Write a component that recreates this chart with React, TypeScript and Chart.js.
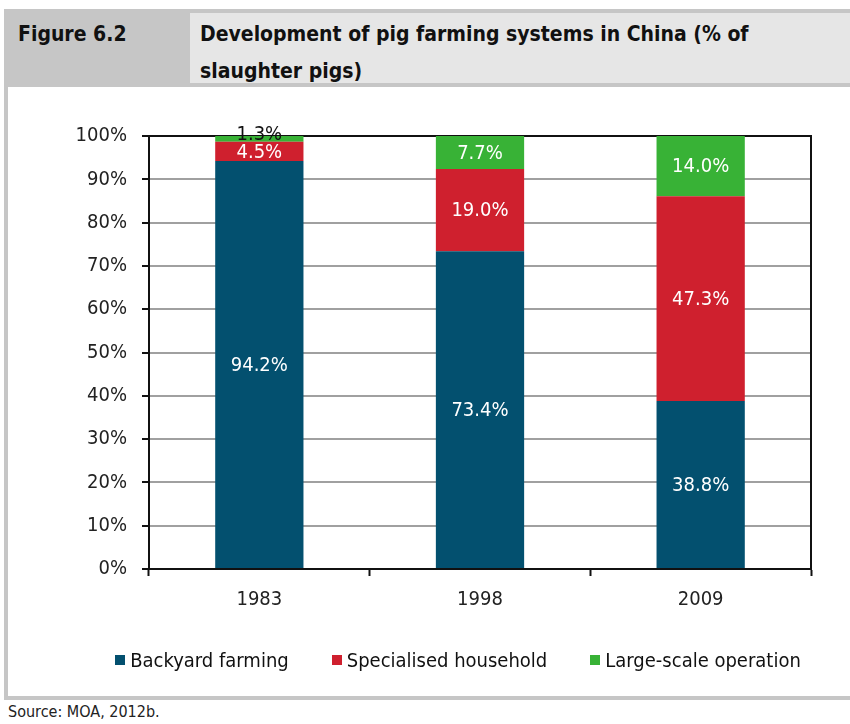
import React, { useEffect, useRef } from "react";
import { Chart, registerables } from "chart.js";

Chart.register(...registerables);

const categories = ["1983", "1998", "2009"];
const seriesNames = ["Backyard farming", "Specialised household", "Large-scale operation"];
const backyard = [94.2, 73.4, 38.8];
const specialised = [4.5, 19.0, 47.3];
const largeScale = [1.3, 7.7, 14.0];
const seriesColors = ["#03506f", "#cf202e", "#38b236"];
const yTicks = [0, 10, 20, 30, 40, 50, 60, 70, 80, 90, 100];

const FONT = '"DejaVu Sans Condensed", "Liberation Sans", sans-serif';
const FS = 20;

const labelPlugin = {
  id: "segLabels",
  afterDatasetsDraw(chart: any) {
    const ctx = chart.ctx;
    ctx.save();
    ctx.font = `normal ${FS}px ${FONT}`;
    ctx.textAlign = "center";
    ctx.textBaseline = "middle";
    chart.data.datasets.forEach((ds: any, di: number) => {
      const meta = chart.getDatasetMeta(di);
      meta.data.forEach((el: any, i: number) => {
        const v = ds.data[i];
        const top = Math.max(el.y, chart.chartArea.top);
        const h = Math.abs(el.base - top);
        let y = (top + el.base) / 2;
        if (h < 14) {
          ctx.fillStyle = "#111";
          y -= 5;
        } else {
          ctx.fillStyle = "#ffffff";
        }
        ctx.fillText(v.toFixed(1) + "%", el.x, y + 1);
      });
    });
    ctx.restore();
  },
};

const boxPlugin = {
  id: "plotBox",
  beforeDatasetsDraw(chart: any) {
    const { ctx, chartArea } = chart;
    ctx.save();
    ctx.strokeStyle = "#111";
    ctx.lineWidth = 2;
    ctx.beginPath();
    ctx.moveTo(chartArea.left, chartArea.top);
    ctx.lineTo(chartArea.right, chartArea.top);
    ctx.lineTo(chartArea.right, chartArea.bottom);
    ctx.stroke();
    ctx.restore();
  },
};

function ChartCanvas() {
  const ref = useRef<HTMLCanvasElement | null>(null);
  useEffect(() => {
    if (!ref.current) return;
    const values = [backyard, specialised, largeScale];
    const chart = new Chart(ref.current, {
      type: "bar",
      data: {
        labels: categories,
        datasets: seriesNames.map((name, i) => ({
          label: name,
          data: values[i],
          backgroundColor: seriesColors[i],
          borderWidth: 0,
          barPercentage: 0.4,
          categoryPercentage: 1,
        })),
      },
      options: {
        animation: false,
        responsive: false,
        devicePixelRatio: 1,
        layout: { padding: { top: 49, right: 39, bottom: 81, left: 0 } },
        plugins: {
          legend: { display: false },
          tooltip: { enabled: false },
        },
        scales: {
          x: {
            stacked: true,
            grid: {
              offset: true,
              drawOnChartArea: false,
              tickLength: 7,
              tickColor: "#111",
              tickWidth: 2,
            },
            border: { display: true, color: "#111", width: 2 },
            ticks: { font: { family: FONT, size: FS }, color: "#222", padding: 12 },
            afterFit(scale: any) {
              scale.height = 46;
            },
          },
          y: {
            stacked: true,
            min: 0,
            max: 100,
            afterBuildTicks(scale: any) {
              scale.ticks = yTicks.map((v) => ({ value: v }));
            },
            grid: {
              color: "#a0a0a0",
              lineWidth: 2,
              tickLength: 7,
              tickColor: "#111",
              tickWidth: 2,
            },
            border: { display: true, color: "#111", width: 2 },
            ticks: {
              font: { family: FONT, size: FS },
              color: "#222",
              padding: 15,
              callback: (v: any) => v + "%",
            },
            afterFit(scale: any) {
              scale.width = 141;
            },
          },
        },
      },
      plugins: [boxPlugin, labelPlugin],
    });
    return () => chart.destroy();
  }, []);
  return <canvas ref={ref} width={842} height={609} style={{ display: "block" }} />;
}

export default function App() {
  const text: React.CSSProperties = { fontFamily: FONT, color: "#111" };
  return (
    <div style={{ position: "absolute", left: 0, top: 0, width: 850, height: 724, background: "#fff", overflow: "hidden" }}>
      <div style={{ position: "absolute", left: 4, top: 9, width: 846, height: 691, background: "#c6c6c6" }} />
      <div style={{ ...text, position: "absolute", left: 18, top: 16, fontWeight: "bold", fontSize: 21, lineHeight: "37px" }}>
        Figure 6.2
      </div>
      <div style={{ position: "absolute", left: 190, top: 13, width: 660, height: 70, background: "#e6e6e6" }}>
        <div style={{ ...text, position: "absolute", left: 10, top: 3, fontWeight: "bold", fontSize: 21, lineHeight: "37px", whiteSpace: "nowrap" }}>
          Development of pig farming systems in China (% of
          <br />
          slaughter pigs)
        </div>
      </div>
      <div style={{ position: "absolute", left: 8, top: 87, width: 842, height: 609, background: "#fff" }}>
        <ChartCanvas />
        <div style={{ position: "absolute", left: 0, top: 561, width: 900, display: "flex", justifyContent: "center", gap: 43 }}>
          {seriesNames.map((n, i) => (
            <div key={n} style={{ display: "flex", alignItems: "center" }}>
              <div style={{ width: 10, height: 10, background: seriesColors[i], marginRight: 5 }} />
              <span style={{ ...text, fontSize: 20, lineHeight: "24px" }}>{n}</span>
            </div>
          ))}
        </div>
      </div>
      <div style={{ ...text, position: "absolute", left: 8, top: 702, fontSize: 16, lineHeight: "20px", color: "#222" }}>
        Source: MOA, 2012b.
      </div>
    </div>
  );
}
